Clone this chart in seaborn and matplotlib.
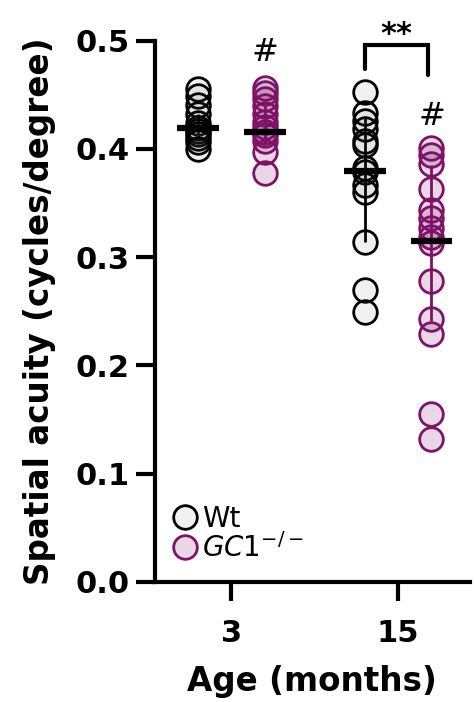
import numpy as np
import pandas as pd
import matplotlib
matplotlib.use("Agg")
import matplotlib.pyplot as plt
from matplotlib.lines import Line2D
import seaborn as sns

# ── Data ────────────────────────────────────────────────────────────────────
ages = ["3", "15"]
genotypes = ["Wt", "GC1"]

wt_3 = [0.455, 0.449, 0.441, 0.432, 0.424, 0.419, 0.417, 0.414, 0.410, 0.406, 0.400]
gc1_3 = [0.456, 0.452, 0.446, 0.440, 0.432, 0.425, 0.420, 0.416, 0.413, 0.407, 0.397, 0.378]
wt_15 = [0.453, 0.433, 0.426, 0.418, 0.407, 0.404, 0.382, 0.379, 0.367, 0.360,
         0.314, 0.270, 0.249]
gc1_15 = [0.401, 0.394, 0.386, 0.363, 0.344, 0.336, 0.327, 0.319, 0.313, 0.278,
          0.243, 0.229, 0.155, 0.132]

# median with interquartile range, per genotype, per age
medians = {"Wt": [0.419, 0.380], "GC1": [0.416, 0.315]}
q1 = {"Wt": [0.410, 0.314], "GC1": [0.404, 0.241]}
q3 = {"Wt": [0.432, 0.430], "GC1": [0.440, 0.385]}

rows = []
for age, vals in zip(ages, [wt_3, wt_15]):
    rows += [{"age": age, "genotype": "Wt", "acuity": v} for v in vals]
for age, vals in zip(ages, [gc1_3, gc1_15]):
    rows += [{"age": age, "genotype": "GC1", "acuity": v} for v in vals]
df = pd.DataFrame(rows)

# ── Style ───────────────────────────────────────────────────────────────────
sns.set_style("ticks")
plt.rcParams["font.family"] = ["DejaVu Sans"]
plt.rcParams["mathtext.fontset"] = "custom"
plt.rcParams["mathtext.it"] = "DejaVu Sans:italic"
plt.rcParams["mathtext.rm"] = "DejaVu Sans"
for key in ["text.color", "axes.labelcolor", "axes.edgecolor",
            "xtick.color", "ytick.color"]:
    plt.rcParams[key] = "black"

purple = "#7d1267"
edge = {"Wt": "black", "GC1": purple}
face = {"Wt": (0.3, 0.3, 0.3, 0.08), "GC1": (0.49, 0.07, 0.40, 0.17)}
offset = {"Wt": -0.2, "GC1": 0.2}
msize = 17

fig = plt.figure(figsize=(4.75, 7.02), dpi=100)
ax = fig.add_axes([0.326, 0.171, 0.663, 0.771])

sns.stripplot(data=df, x="age", y="acuity", hue="genotype", order=ages,
              hue_order=genotypes, dodge=True, jitter=False, size=msize,
              linewidth=2, palette={"Wt": "lightgray", "GC1": "plum"},
              legend=False, ax=ax, zorder=3)

# recolour the circles: translucent face, solid edge
for coll in ax.collections:
    offs = coll.get_offsets()
    if len(offs) == 0:
        continue
    g = "Wt" if offs[0, 0] - round(offs[0, 0]) < 0 else "GC1"
    coll.set_facecolor(face[g])
    coll.set_edgecolor(edge[g])
    coll.set_linewidth(2)

# median lines + IQR bars
for g in genotypes:
    xs = np.arange(len(ages)) + offset[g]
    ax.vlines(xs, q1[g], q3[g], color=edge[g], lw=2, zorder=2)
    ax.hlines(medians[g], xs - 0.125, xs + 0.125, color="black", lw=4.5, zorder=5)

# significance marks
ax.plot([0.8, 0.8, 1.18, 1.18], [0.474, 0.496, 0.496, 0.468], color="black",
        lw=3, clip_on=False, solid_joinstyle="miter")
ax.text(0.99, 0.492, "**", ha="center", va="bottom", fontsize=22,
        fontweight="bold", clip_on=False)
ax.text(0.2, 0.489, "#", ha="center", va="center", fontsize=23)
ax.text(1.2, 0.430, "#", ha="center", va="center", fontsize=23)

# axes
ax.set_xlim(-0.46, 1.43)
ax.set_ylim(0, 0.5)
ax.set_yticks([0, 0.1, 0.2, 0.3, 0.4, 0.5])
ax.set_yticklabels(["0.0", "0.1", "0.2", "0.3", "0.4", "0.5"])
ax.set_xticks([0, 1])
ax.set_xticklabels(ages)
for lab in ax.get_xticklabels() + ax.get_yticklabels():
    lab.set_fontweight("bold")
    lab.set_fontsize(22)
ax.tick_params(length=14, width=3)
ax.tick_params(axis="y", pad=4)
ax.tick_params(axis="x", pad=13)
for side in ["left", "bottom"]:
    ax.spines[side].set_linewidth(3)
sns.despine(ax=ax)

ax.set_ylabel("Spatial acuity (cycles/degree)", fontsize=23.5, fontweight="bold",
              labelpad=14)
ax.set_xlabel("Age (months)", fontsize=23.5, fontweight="bold", labelpad=12)

handles = [Line2D([], [], ls="none", marker="o", ms=msize, mew=2,
                  mfc=face[g], mec=edge[g]) for g in genotypes]
ax.legend(handles, ["Wt", r"$\mathit{GC1}^{\mathit{-/-}}$"], loc="lower left",
          bbox_to_anchor=(0.0, 0.005), frameon=False, fontsize=20,
          handletextpad=0.1, labelspacing=0.0, borderaxespad=0.2,
          handlelength=1.0)

fig.savefig("out.png", dpi=100)
